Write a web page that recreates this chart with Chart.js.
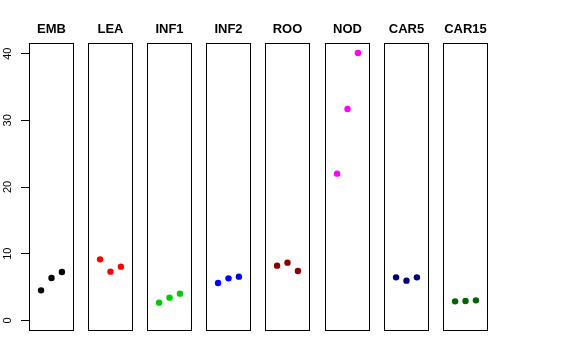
<!DOCTYPE html>
<html>
<head>
<meta charset="utf-8">
<script src="https://cdn.jsdelivr.net/npm/chart.js@4.4.1/dist/chart.umd.min.js"></script>
<style>
  html, body { margin: 0; padding: 0; background: #ffffff; }
  #wrap { position: relative; width: 576px; height: 360px; background: #ffffff; overflow: hidden; }
  .panel { position: absolute; top: 0; height: 331px; }
</style>
</head>
<body>
<div id="wrap"></div>
<script>
// ---- data ----
const categories = ["EMB", "LEA", "INF1", "INF2", "ROO", "NOD", "CAR5", "CAR15"];
const replicates = [1, 2, 3];
const valEMB   = [4.5, 6.35, 7.25];
const valLEA   = [9.15, 7.3, 8.05];
const valINF1  = [2.65, 3.4, 4.0];
const valINF2  = [5.6, 6.3, 6.55];
const valROO   = [8.2, 8.65, 7.4];
const valNOD   = [22.0, 31.7, 40.1];
const valCAR5  = [6.45, 5.95, 6.45];
const valCAR15 = [2.85, 2.9, 3.0];
const seriesValues = [valEMB, valLEA, valINF1, valINF2, valROO, valNOD, valCAR5, valCAR15];
const seriesColors = ["#000000", "#FF0000", "#00CD00", "#0000FF", "#8B0000", "#FF00FF", "#000080", "#006400"];
const yTicks = [0, 10, 20, 30, 40];

// ---- layout constants ----
const FONT = "'Liberation Sans', Arial, Helvetica, sans-serif";
const panelLefts = [29, 88, 147, 206, 265, 324.5, 384, 443];
const panelWidth = 45;
const axisWidth = 29;

const boxPlugin = {
  id: 'boxPlugin',
  afterDraw(chart) {
    const a = chart.chartArea, ctx = chart.ctx;
    ctx.save();
    ctx.strokeStyle = '#000000';
    ctx.lineWidth = 1;
    ctx.strokeRect(Math.round(a.left) + 0.5, Math.round(a.top) + 0.5,
                   Math.round(a.right - a.left) - 1, Math.round(a.bottom - a.top) - 1);
    ctx.restore();
  }
};

const wrap = document.getElementById('wrap');
categories.forEach((cat, i) => {
  const first = i === 0;
  const div = document.createElement('div');
  div.className = 'panel';
  const left = first ? panelLefts[i] - axisWidth : panelLefts[i];
  const width = first ? panelWidth + axisWidth : panelWidth;
  div.style.left = left + 'px';
  div.style.width = width + 'px';
  const canvas = document.createElement('canvas');
  div.appendChild(canvas);
  wrap.appendChild(div);

  new Chart(canvas, {
    type: 'scatter',
    data: {
      datasets: [{
        label: cat,
        data: seriesValues[i].map((v, k) => ({ x: replicates[k], y: v })),
        backgroundColor: seriesColors[i],
        borderColor: seriesColors[i],
        pointRadius: 3.2,
        pointBorderWidth: 0,
        pointHoverRadius: 3.2
      }]
    },
    options: {
      responsive: true,
      maintainAspectRatio: false,
      animation: false,
      events: [],
      layout: { padding: 0, autoPadding: false },
      plugins: {
        legend: { display: false },
        tooltip: { enabled: false },
        title: {
          display: true,
          fullSize: false,
          text: cat,
          color: '#000000',
          font: { family: FONT, size: 13, weight: 'bold', lineHeight: 1.2 },
          padding: { top: 21.7, bottom: 5.7 }
        }
      },
      scales: {
        x: {
          type: 'linear',
          display: false,
          min: -0.16,
          max: 4.16
        },
        y: {
          type: 'linear',
          display: first,
          min: -1.6,
          max: 41.6,
          afterBuildTicks: s => { s.ticks = yTicks.map(v => ({ value: v })); },
          afterFit: s => {
            if (first) { s.width = axisWidth; }
            s.paddingTop = 0; s.paddingBottom = 0;
          },
          grid: {
            display: true,
            drawOnChartArea: false,
            drawTicks: true,
            tickLength: 8,
            tickColor: '#000000',
            tickWidth: 1
          },
          border: { display: false },
          ticks: {
            color: '#000000',
            font: { family: FONT, size: 11 },
            minRotation: 90,
            maxRotation: 90,
            crossAlign: 'center',
            padding: 7
          }
        }
      }
    },
    plugins: [boxPlugin]
  });
});
</script>
</body>
</html>
